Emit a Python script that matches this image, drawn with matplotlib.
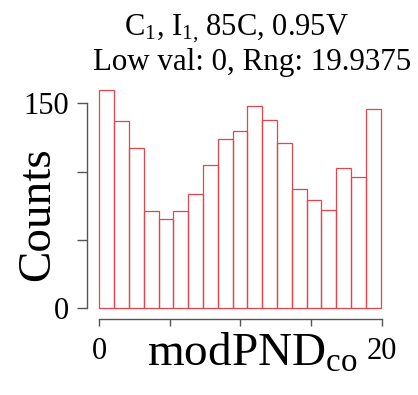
import numpy as np
import matplotlib
matplotlib.use('Agg')
import matplotlib.pyplot as plt

# histogram of modPND_co, 19 bins from low_val to low_val + rng
low_val = 0
rng = 19.9375
counts = [160, 137, 117, 71, 65, 71, 84, 105, 124, 130,
          148, 138, 121, 87, 79, 72, 103, 96, 146]
x_ticks = [0, 5, 10, 15, 20]
x_tick_labels = ['0', '', '', '', '20']
y_ticks = [0, 50, 100, 150]
y_tick_labels = ['0', '', '', '150']

plt.rcParams['font.family'] = ['Liberation Serif', 'DejaVu Serif']
plt.rcParams['mathtext.fontset'] = 'custom'
plt.rcParams['mathtext.rm'] = 'Liberation Serif'
plt.rcParams['mathtext.it'] = 'Liberation Serif'

W, H = 418, 395
fig = plt.figure(figsize=(W / 100, H / 100), dpi=100)

def fx(px):
    return px / W

def fy(py):
    return 1 - py / H

ax = fig.add_axes([fx(88), fy(317), fx(392) - fx(88), fy(81) - fy(317)])

edges = np.linspace(low_val, low_val + rng, len(counts) + 1)
ax.bar(edges[:-1], counts, width=np.diff(edges), align='edge',
       fill=False, edgecolor='#e2454d', linewidth=0.9)

# R style axis ranges (4% padding)
pad_x = 0.04 * (edges[-1] - edges[0])
ax.set_xlim(edges[0] - pad_x, edges[-1] + pad_x)
top = max(counts)
ax.set_ylim(-0.04 * top, 1.04 * top)

for s in ['top', 'right']:
    ax.spines[s].set_visible(False)
ax.spines['left'].set_bounds(0, 150)
ax.spines['bottom'].set_bounds(0, 20)
ax.spines['left'].set_position(('outward', 1))
ax.spines['bottom'].set_position(('outward', 1.5))
for s in ['left', 'bottom']:
    ax.spines[s].set_color('#555555')
    ax.spines[s].set_linewidth(1)

ax.set_xticks(x_ticks)
ax.set_xticklabels(x_tick_labels)
ax.set_yticks(y_ticks)
ax.set_yticklabels(y_tick_labels)
ax.tick_params(axis='both', colors='#555555', labelcolor='black',
               labelsize=22, width=1)
ax.tick_params(axis='y', length=7, pad=6)
ax.tick_params(axis='x', length=5, pad=8)

fig.text(fx(236), fy(35), r'C$_1$, I$_{1,}\,$85C, 0.95V', ha='center',
         va='baseline', fontsize=22)
fig.text(fx(252), fy(70), 'Low val: 0, Rng: 19.9375', ha='center',
         va='baseline', fontsize=22.3)
fig.text(fx(252), fy(366), r'modPND$_{\mathrm{co}}$', ha='center',
         va='baseline', fontsize=34)
fig.text(fx(38), fy(214), 'Counts', ha='center', va='center',
         rotation=90, fontsize=34)

fig.savefig('out.png', dpi=100)
